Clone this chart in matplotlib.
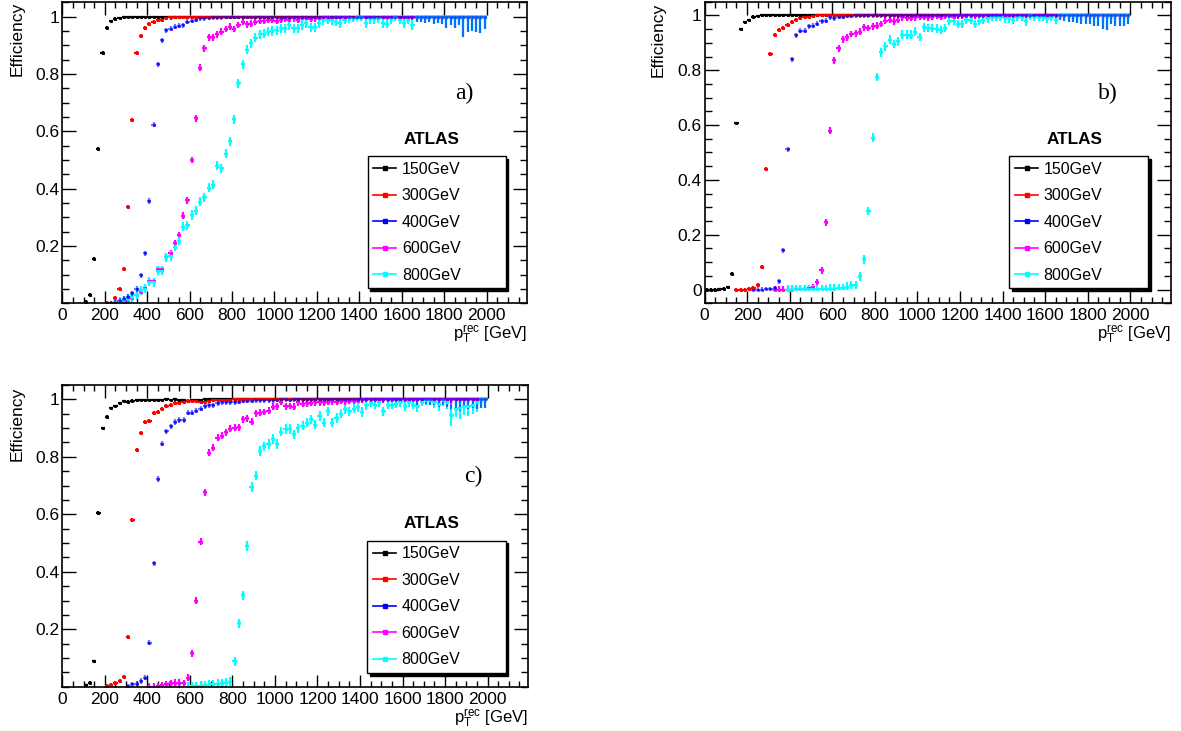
import numpy as np
import matplotlib
matplotlib.use('Agg')
import matplotlib.pyplot as plt
from matplotlib.lines import Line2D
from matplotlib.ticker import MultipleLocator, FixedLocator, FuncFormatter

plt.rcParams['font.family'] = ['Liberation Sans', 'DejaVu Sans']
plt.rcParams['mathtext.fontset'] = 'custom'
plt.rcParams['mathtext.rm'] = 'Liberation Sans'
plt.rcParams['mathtext.it'] = 'Liberation Sans'

# series labels / colours (same in all three panels)
labels = ['150GeV', '300GeV', '400GeV', '600GeV', '800GeV']
colors = ['black', 'red', 'blue', 'magenta', 'cyan']
err_size = [0.005, 0.007, 0.009, 0.012, 0.016]   # typical stat. error per series
bin_width = 20   # GeV

# ---------------- panel a) ----------------
a_first = [110, 210, 250, 250, 250]   # centre of first filled bin (GeV)
a_150 = [0.006, 0.03, 0.156, 0.54, 0.874, 0.961, 0.985, 0.992, 0.996, 0.998,
         1, 1, 0.999, 1, 1, 1, 0.999, 1, 1, 1,
         1, 1, 1, 1, 1, 1, 1, 1, 1, 1,
         1, 1, 1, 1, 1, 1, 1, 1, 1, 1,
         1, 1, 1, 1, 1, 1, 1, 1, 1, 1,
         1, 1, 1, 1, 1, 1, 1, 1, 1, 1,
         1, 1, 1, 1, 1, 1, 1, 1, 1, 1,
         1, 1, 1, 1, 1, 1, 1, 1, 1, 1,
         1, 1, 1, 1, 1, 1, 1, 1, 1, 1,
         1, 1, 1, 1, 1]
a_300 = [0.002, 0.002, 0.02, 0.05, 0.12, 0.335, 0.64, 0.874, 0.933, 0.962,
         0.976, 0.983, 0.99, 0.99, 0.995, 0.997, 0.998, 0.999, 1, 1,
         1, 1, 1, 1, 1, 1, 1, 1, 1, 1,
         1, 1, 1, 1, 1, 1, 1, 1, 1, 1,
         1, 1, 1, 1, 1, 1, 1, 1, 1, 1,
         1, 1, 1, 1, 1, 1, 1, 1, 1, 1,
         1, 1, 1, 1, 1, 1, 1, 1, 1, 1,
         1, 1, 1, 1, 1, 1, 1, 1, 1, 1,
         1, 1, 1, 1, 1, 1, 1, 1, 1, 1]
a_400 = [0.002, 0.008, 0.015, 0.023, 0.035, 0.05, 0.098, 0.174, 0.357, 0.623,
         0.834, 0.918, 0.953, 0.958, 0.965, 0.968, 0.97, 0.982, 0.986, 0.99,
         0.994, 0.995, 0.996, 0.997, 0.998, 0.999, 1, 1, 1, 1,
         1, 1, 1, 1, 1, 1, 1, 1, 1, 1,
         1, 1, 1, 1, 1, 1, 1, 1, 1, 1,
         1, 1, 1, 1, 1, 1, 1, 1, 1, 1,
         1, 1, 1, 1, 1, 1, 1, 1, 1, 1,
         1, 1, 1, 1, 1, 1, 1, 1, 1, 1,
         1, 1, 1, 1, 1, 1, 1, 1]
a_600 = [0.001, 0.003, 0.006, 0.012, 0.02, 0.03, 0.04, 0.055, 0.078, 0.078,
         0.118, 0.118, 0.163, 0.175, 0.209, 0.238, 0.305, 0.36, 0.5, 0.645,
         0.822, 0.889, 0.928, 0.928, 0.938, 0.947, 0.957, 0.965, 0.957, 0.971,
         0.982, 0.974, 0.976, 0.982, 0.986, 0.986, 0.99, 0.99, 0.986, 0.99,
         0.992, 0.99, 0.994, 0.99, 0.994, 0.996, 0.992, 0.994, 0.996, 0.998,
         1, 0.996, 1, 0.998, 1, 1, 0.995, 1, 1, 1,
         1, 1, 0.996, 1, 1, 1, 1, 0.996, 1, 1,
         1, 1, 1, 1, 1, 1, 1, 1, 1, 1,
         1, 1, 1, 1, 1, 1, 1, 1]
a_800 = [0.002, 0.005, 0.01, 0.015, 0.022, 0.03, 0.045, 0.051, 0.076, 0.074,
         0.114, 0.114, 0.16, 0.165, 0.198, 0.219, 0.267, 0.272, 0.308, 0.323,
         0.355, 0.37, 0.403, 0.413, 0.48, 0.471, 0.522, 0.565, 0.642, 0.767,
         0.834, 0.884, 0.907, 0.927, 0.938, 0.94, 0.947, 0.95, 0.953, 0.959,
         0.959, 0.971, 0.959, 0.959, 0.971, 0.977, 0.963, 0.963, 0.977, 0.988,
         0.99, 0.988, 0.983, 0.977, 0.99, 0.994, 0.996, 1, 1, 0.977,
         0.992, 0.992, 0.994, 0.977, 0.975, 0.992, 1, 0.99, 0.977, 0.99,
         0.971, 1, 1, 1, 1, 1, 1, 1, 1, 1,
         1, 1, 1, 1, 1, 1, 1, 1]
# lower errors of the last 17 bins (1670-1990 GeV), 400 and 800 GeV samples
a_tail = [0.017, 0.02, 0.023, 0.017, 0.027, 0.023, 0.027, 0.041, 0.029,
          0.041, 0.029, 0.07, 0.055, 0.05, 0.052, 0.058, 0.043]

# ---------------- panel b) ----------------
b_first = [10, 150, 230, 330, 390]
b_150 = [0, 0, 0, 0.001, 0.003, 0.008, 0.058, 0.608, 0.95, 0.975,
         0.983, 0.995, 0.998, 1, 1, 1, 1, 1, 1, 1,
         1, 1, 1, 1, 1, 1, 1, 1, 1, 1,
         1, 1, 1, 1, 1, 1, 1, 1, 1, 1,
         1, 1, 1, 1, 1, 1, 1, 1, 1, 1,
         1, 1, 1, 1, 1, 1, 1, 1, 1, 1,
         1, 1, 1, 1, 1, 1, 1, 1, 1, 1,
         1, 1, 1, 1, 1, 1, 1, 1, 1, 1,
         1, 1, 1, 1, 1, 1, 1, 1, 1, 1,
         1, 1, 1, 1, 1, 1, 1, 1, 1, 1]
b_300 = [0, 0, 0, 0.001, 0.005, 0.016, 0.082, 0.44, 0.86, 0.93,
         0.948, 0.955, 0.965, 0.975, 0.985, 0.99, 0.993, 0.996, 0.998, 1,
         1, 1, 1, 1, 1, 1, 1, 1, 1, 1,
         1, 1, 1, 1, 1, 1, 1, 1, 1, 1,
         1, 1, 1, 1, 1, 1, 1, 1, 1, 1,
         1, 1, 1, 1, 1, 1, 1, 1, 1, 1,
         1, 1, 1, 1, 1, 1, 1, 1, 1, 1,
         1, 1, 1, 1, 1, 1, 1, 1, 1, 1,
         1, 1, 1, 1, 1, 1, 1, 1, 1, 1,
         1, 1, 1]
b_400 = [0, 0, 0, 0.001, 0.002, 0.005, 0.03, 0.144, 0.512, 0.84,
         0.927, 0.944, 0.944, 0.96, 0.963, 0.969, 0.978, 0.98, 0.993, 0.99,
         0.995, 0.996, 0.998, 0.998, 1, 1, 1, 1, 1, 1,
         1, 1, 1, 1, 1, 1, 1, 1, 1, 1,
         1, 1, 1, 1, 1, 1, 1, 1, 1, 1,
         1, 1, 1, 1, 1, 1, 1, 1, 1, 1,
         1, 1, 1, 1, 1, 1, 1, 1, 1, 1,
         1, 1, 1, 1, 1, 1, 1, 1, 1, 1,
         1, 1, 1, 1, 1, 1, 1, 1, 1]
b_600 = [0, 0, 0, 0, 0, 0.001, 0.001, 0.002, 0.005, 0.01,
         0.028, 0.07, 0.245, 0.58, 0.836, 0.88, 0.913, 0.92, 0.932, 0.935,
         0.941, 0.956, 0.954, 0.96, 0.963, 0.969, 0.981, 0.984, 0.978, 0.984,
         0.993, 0.99, 0.99, 0.993, 0.995, 0.996, 0.993, 0.996, 0.998, 0.995,
         0.998, 1, 0.996, 1, 1, 0.998, 1, 1, 1, 1,
         1, 1, 1, 1, 1, 1, 1, 1, 1, 1,
         1, 1, 1, 1, 1, 1, 1, 1, 1, 1,
         1, 1, 1, 1, 1, 1, 1, 1, 1, 1,
         1, 1, 1, 1]
b_800 = [0, 0, 0.001, 0.001, 0.002, 0.002, 0.002, 0.002, 0.002, 0.002,
         0.003, 0.003, 0.004, 0.005, 0.01, 0.017, 0.017, 0.049, 0.11, 0.287,
         0.554, 0.775, 0.865, 0.887, 0.911, 0.896, 0.905, 0.93, 0.93, 0.93,
         0.941, 0.921, 0.956, 0.954, 0.954, 0.951, 0.947, 0.954, 0.981, 0.981,
         0.969, 0.969, 0.984, 0.984, 0.969, 0.98, 0.984, 0.99, 0.995, 0.995,
         0.995, 0.99, 0.99, 0.984, 0.995, 0.995, 0.978, 1, 0.995, 0.995,
         0.995, 0.99, 0.995, 0.984, 1, 1, 1, 1, 1, 1,
         1, 1, 1, 1, 1, 1, 1, 1, 1, 1,
         1]
b_tail = [0.018, 0.02, 0.024, 0.024, 0.028, 0.03, 0.033, 0.033, 0.037,
          0.04, 0.049, 0.052, 0.03, 0.037, 0.037, 0.037, 0.033]

# ---------------- panel c) ----------------
c_first = [110, 210, 310, 410, 590]
c_150 = [0.005, 0.014, 0.088, 0.605, 0.9, 0.94, 0.97, 0.977, 0.987, 0.994,
         0.992, 0.996, 0.997, 0.998, 0.998, 0.998, 0.999, 0.998, 0.999, 1,
         0.999, 1, 0.998, 0.999, 0.996, 0.998, 0.998, 0.999, 1, 1,
         1, 1, 1, 1, 1, 1, 1, 1, 1, 1,
         1, 1, 1, 1, 1, 1, 1, 1, 1, 1,
         1, 1, 1, 1, 1, 1, 1, 1, 1, 1,
         1, 1, 1, 1, 1, 1, 1, 1, 1, 1,
         1, 1, 1, 1, 1, 1, 1, 1, 1, 1,
         1, 1, 1, 1, 1, 1, 1, 1, 1, 1,
         1, 1, 1, 1, 1]
c_300 = [0.002, 0.005, 0.012, 0.021, 0.035, 0.174, 0.581, 0.824, 0.884, 0.922,
         0.924, 0.952, 0.957, 0.968, 0.977, 0.98, 0.986, 0.988, 0.99, 0.994,
         0.994, 0.994, 0.992, 0.99, 0.996, 0.997, 0.998, 0.998, 0.999, 0.999,
         1, 1, 1, 1, 1, 1, 1, 1, 1, 1,
         1, 1, 1, 1, 1, 1, 1, 1, 1, 1,
         1, 1, 1, 1, 1, 1, 1, 1, 1, 1,
         1, 1, 1, 1, 1, 1, 1, 1, 1, 1,
         1, 1, 1, 1, 1, 1, 1, 1, 1, 1,
         1, 1, 1, 1, 1, 1, 1, 1, 1, 1]
c_400 = [0.002, 0.008, 0.01, 0.02, 0.031, 0.153, 0.43, 0.723, 0.846, 0.889,
         0.907, 0.921, 0.928, 0.928, 0.953, 0.953, 0.96, 0.968, 0.977, 0.979,
         0.98, 0.986, 0.99, 0.991, 0.991, 0.991, 0.992, 0.995, 0.995, 0.996,
         0.997, 0.997, 0.998, 0.998, 0.998, 0.999, 1, 1, 0.999, 1,
         1, 1, 1, 1, 1, 1, 1, 1, 1, 1,
         1, 1, 1, 1, 1, 1, 1, 1, 1, 1,
         1, 1, 1, 1, 1, 1, 1, 1, 1, 1,
         1, 1, 1, 1, 1, 1, 1, 1, 1, 1,
         1, 1, 1, 1, 1]
c_600 = [0, 0, 0.002, 0.005, 0.008, 0.012, 0.014, 0.014, 0.012, 0.031,
         0.116, 0.299, 0.505, 0.677, 0.815, 0.832, 0.866, 0.874, 0.885, 0.898,
         0.901, 0.903, 0.93, 0.934, 0.922, 0.951, 0.953, 0.956, 0.96, 0.975,
         0.976, 0.992, 0.976, 0.977, 0.974, 0.99, 0.985, 0.986, 0.988, 0.99,
         0.99, 0.99, 0.992, 0.993, 0.992, 0.995, 0.994, 0.995, 0.996, 0.995,
         1, 1, 1, 1, 1, 1, 1, 1, 1, 1,
         1, 1, 1, 1, 1, 1, 1, 1, 1, 1,
         1, 1, 1, 1, 1, 1, 1, 1, 1, 1]
c_800 = [0, 0.001, 0.002, 0.003, 0.005, 0.007, 0.009, 0.011, 0.012, 0.014,
         0.018, 0.088, 0.221, 0.318, 0.49, 0.695, 0.735, 0.82, 0.837, 0.845,
         0.862, 0.845, 0.888, 0.897, 0.897, 0.879, 0.899, 0.909, 0.919, 0.93,
         0.912, 0.942, 0.919, 0.958, 0.919, 0.935, 0.95, 0.965, 0.958, 0.967,
         0.973, 0.956, 0.979, 0.988, 0.981, 0.991, 0.958, 0.981, 0.981, 0.985,
         0.991, 0.977, 0.991, 0.981, 0.977, 0.991, 0.997, 0.997, 0.991, 0.985,
         0.997, 0.991, 0.944, 0.967, 0.97, 0.977, 0.977, 0.98, 0.99, 1,
         1]
c_tail = [0.02, 0.015, 0.015, 0.018, 0.02, 0.025, 0.02, 0.025, 0.035,
          0.03, 0.04, 0.03, 0.035, 0.03, 0.035, 0.03, 0.03]

W, H = 1181, 731
draw_order = [0, 1, 3, 4, 2]   # blue last, semi-transparent over cyan tails


def draw_panel(rect, first, series, tail, ylim, tag, tag_xy, leg_box, ylab_x, ylab_top, xlab_y):
    ax = fig.add_axes([rect[0] / W, 1 - rect[3] / H,
                       (rect[2] - rect[0]) / W, (rect[3] - rect[1]) / H])
    for k in draw_order:
        y = np.array(series[k], dtype=float)
        x = first[k] + bin_width * np.arange(len(y))
        lo = np.minimum(err_size[k], y)
        hi = np.minimum(err_size[k], 1 - y)
        if k in (2, 4):
            lo[-len(tail):] = tail
            hi[-len(tail):] = np.minimum(tail, 1 - y[-len(tail):])
        ax.errorbar(x, y, xerr=bin_width / 2, yerr=[lo, hi], fmt='s', ms=1.2,
                    color=colors[k], ecolor=colors[k], elinewidth=1.6,
                    capsize=0, alpha=0.55 if k == 2 else 1)

    ax.set_xlim(0, 2190)
    ax.set_ylim(*ylim)
    ax.xaxis.set_major_locator(FixedLocator(np.arange(0, 2001, 200)))
    ax.xaxis.set_minor_locator(MultipleLocator(50))
    if ylim[0] < 0:
        ax.yaxis.set_major_locator(FixedLocator([0, 0.2, 0.4, 0.6, 0.8, 1.0]))
    else:
        ax.yaxis.set_major_locator(FixedLocator([0.2, 0.4, 0.6, 0.8, 1.0]))
    ax.yaxis.set_minor_locator(MultipleLocator(0.05))
    fmt = FuncFormatter(lambda v, p: f'{v:g}')
    ax.xaxis.set_major_formatter(fmt)
    ax.yaxis.set_major_formatter(fmt)
    ax.tick_params(which='both', direction='in', top=True, right=True,
                   labelsize=12.5, width=1)
    ax.tick_params(axis='x', which='major', length=9, pad=3.5)
    ax.tick_params(axis='x', which='minor', length=4.5)
    ax.tick_params(axis='y', which='major', length=10, pad=2)
    ax.tick_params(axis='y', which='minor', length=5)
    for sp in ax.spines.values():
        sp.set_linewidth(1.2)

    handles = [Line2D([0], [0], color=c, lw=1.2, marker='s', ms=2.5) for c in colors]
    ax.legend(handles, labels, loc='lower left', mode='expand',
              bbox_to_anchor=leg_box, borderaxespad=0, borderpad=0.35,
              labelspacing=0.72, handlelength=1.45, handletextpad=0.35,
              fontsize=11.5, fancybox=False, framealpha=1, edgecolor='black',
              shadow={'shade': 1.0, 'alpha': 1})
    ax.get_legend().get_frame().set_linewidth(1.0)

    top_leg = leg_box[1] + leg_box[3]
    ax.text(leg_box[0] + leg_box[2] / 2 - 0.01, top_leg + 0.05, 'ATLAS',
            transform=ax.transAxes, ha='center', va='center',
            fontsize=12.3, fontweight='bold')
    ax.text(tag_xy[0], tag_xy[1], tag, transform=ax.transAxes, ha='center',
            va='center', fontsize=17, family=['Liberation Serif', 'DejaVu Serif'])

    fig.text(ylab_x / W, 1 - ylab_top / H, 'Efficiency', rotation=90,
             ha='center', va='top', fontsize=12.5)
    fig.text(rect[2] / W, 1 - xlab_y / H, r'$\mathrm{p}_{\mathrm{T}}^{\mathrm{rec}}$ [GeV]',
             ha='right', va='center', fontsize=12)
    return ax


fig = plt.figure(figsize=(W / 100, H / 100), dpi=100)

draw_panel((62.3, 2.3, 527, 303.3), a_first, [a_150, a_300, a_400, a_600, a_800],
           a_tail, (0, 1.05), 'a)', (0.865, 0.698), (0.657, 0.05, 0.297, 0.443),
           17, 2, 334)
draw_panel((704.5, 1.7, 1170.7, 303.3), b_first, [b_150, b_300, b_400, b_600, b_800],
           b_tail, (-0.05, 1.05), 'b)', (0.866, 0.696), (0.654, 0.05, 0.298, 0.442),
           658.5, 3, 334)
draw_panel((62.3, 385, 528, 686.7), c_first, [c_150, c_300, c_400, c_600, c_800],
           c_tail, (0, 1.05), 'c)', (0.882, 0.696), (0.655, 0.046, 0.297, 0.444),
           17, 387, 718)

fig.savefig('out.png', dpi=100)
